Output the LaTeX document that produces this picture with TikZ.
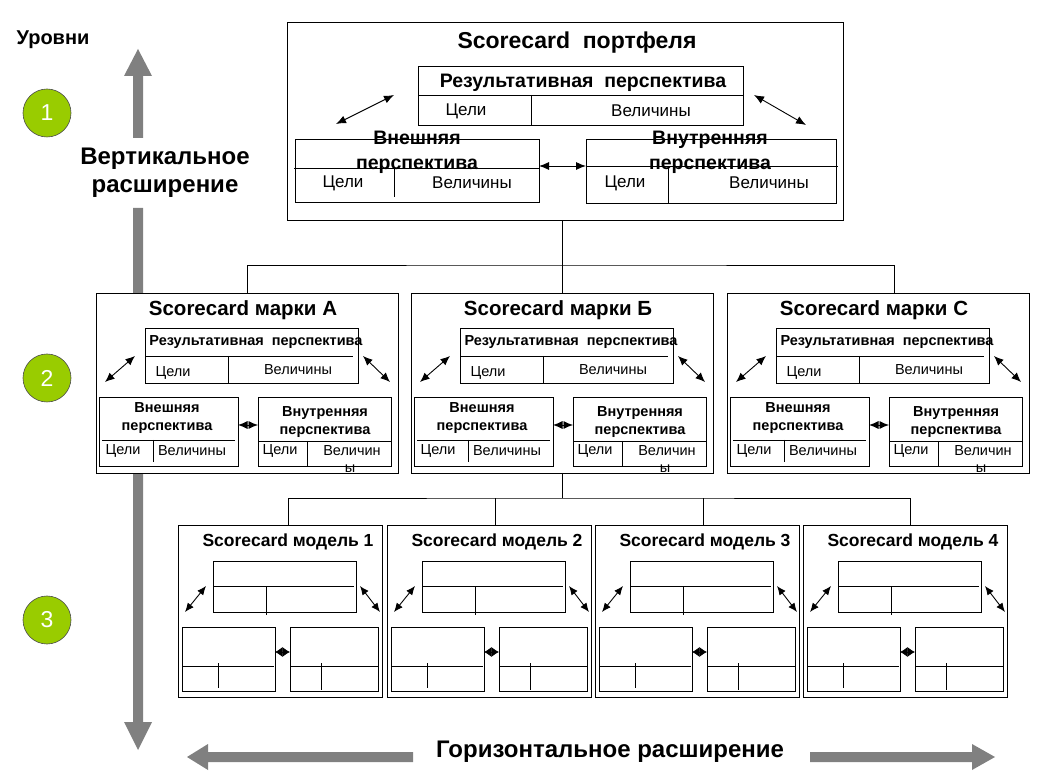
\documentclass[tikz,border=0pt]{standalone}
\usepackage{fontspec}
\setmainfont{Liberation Sans}
\usetikzlibrary{arrows.meta,calc}
\definecolor{lvgreen}{HTML}{99CC00}
\definecolor{arrgray}{HTML}{808080}
\tikzset{
 box/.style={draw=black, line width=0.9pt, fill=white, anchor=north west, inner sep=0pt, outer sep=0pt},
 ln/.style={draw=black, line width=0.9pt},
 conn/.style={draw=black, line width=0.9pt},
 dblA/.style={line width=0.9pt, {Latex[length=10pt,width=8pt]}-{Latex[length=10pt,width=8pt]}},
 dblB/.style={line width=0.9pt, {Latex[length=9.5pt,width=8pt]}-{Latex[length=9.5pt,width=8pt]}},
 dblC/.style={line width=0.9pt, {Latex[length=9pt,width=7.5pt]}-{Latex[length=9pt,width=7.5pt]}},
 midC/.style={line width=0.9pt, {Latex[length=7.5pt,width=10pt]}-{Latex[length=7.5pt,width=10pt]}},
 txt/.style={inner sep=0pt, outer sep=0pt, anchor=center},
 tA/.style={txt, font=\fontsize{23}{27}\selectfont\bfseries},
 bA/.style={txt, font=\fontsize{19.5}{25}\selectfont\bfseries},
 rA/.style={txt, font=\fontsize{17}{20}\selectfont},
 tB/.style={txt, font=\fontsize{20.5}{24}\selectfont\bfseries},
 bB/.style={txt, font=\fontsize{14.5}{18.5}\selectfont\bfseries},
 rB/.style={txt, font=\fontsize{14.5}{17}\selectfont},
 tC/.style={txt, font=\fontsize{17.5}{20}\selectfont\bfseries},
 lvl/.style={txt, font=\fontsize{20}{23}\selectfont\bfseries},
 big/.style={txt, font=\fontsize{24}{28}\selectfont\bfseries},
 circ/.style={circle, draw=black!70, line width=0.6pt, fill=lvgreen, minimum size=48pt, inner sep=0pt, text=white, font=\fontsize{23}{26}\selectfont},
}
\newcommand{\markabox}[3]{%
\begin{scope}[xshift=#1pt]
\node[box, minimum width=302pt, minimum height=180pt] (#2) at (96,293) {};
\node[tB] (#2t) at (243,310) {#3};
\node[box, minimum width=213pt, minimum height=55pt] (#2r) at (145,328) {};
\draw[ln] (145,356) -- (353,356);
\draw[ln] (228,356) -- (228,383);
\node[bB] (#2rt) at (256,342) {Результативная\ \ перспектива};
\node[rB] (#2rg) at (173,373) {Цели};
\node[rB] (#2rv) at (298,370) {Величины};
\draw[dblB] (105,382) -- (135,356);
\draw[dblB] (363,356) -- (390,382);
\node[box, minimum width=139pt, minimum height=69pt] (#2e) at (99,397) {};
\draw[ln] (102,440) -- (235,440);
\draw[ln] (153,440) -- (153,462);
\node[bB, align=center] (#2et) at (167,418) {Внешняя\\перспектива};
\node[rB] (#2eg) at (123,451) {Цели};
\node[rB] (#2ev) at (192,451) {Величины};
\node[box, minimum width=133pt, minimum height=69pt] (#2i) at (258,397) {};
\draw[ln] (258,441) -- (391,441);
\draw[ln] (307,441) -- (307,466);
\node[bB, align=center] (#2it) at (325,422) {Внутренняя\\перспектива};
\node[rB] (#2ig) at (280,451) {Цели};
\node[rB] (#2iv) at (352,451) {Величин};
\node[rB] (#2iy) at (350,469) {ы};
\draw[dblB] (#2e.east |- 0,425) -- (#2i.west |- 0,425);
\end{scope}}
\newcommand{\modelbox}[3]{%
\begin{scope}[xshift=#1pt]
\node[box, minimum width=204pt, minimum height=172pt] (#2) at (178,525) {};
\node[tC] (#2t) at (288,542) {#3};
\node[box, minimum width=143pt, minimum height=51pt] (#2r) at (213,561) {};
\draw[ln] (214,586) -- (354,586);
\draw[ln] (266,586) -- (266,615);
\draw[dblC] (185,612) -- (206,586);
\draw[dblC] (360,586) -- (380,612);
\node[box, minimum width=93pt, minimum height=64pt] (#2e) at (182,627) {};
\draw[ln] (183,666) -- (274,666);
\draw[ln] (218,663) -- (218,688);
\node[box, minimum width=88pt, minimum height=64pt] (#2i) at (290,627) {};
\draw[ln] (290,666) -- (378,666);
\draw[ln] (321,663) -- (321,690);
\draw[midC] (#2e.east |- 0,652) -- (#2i.west |- 0,652);
\end{scope}}
\begin{document}
\begin{tikzpicture}[x=1pt,y=-1pt]
\useasboundingbox (0,0) rectangle (1037,783);
% gray arrows
\fill[arrgray] (133,138) -- (133,76) -- (124,76) -- (138,49) -- (152,76) -- (143,76) -- (143,138) -- cycle;
\fill[arrgray] (133,208) -- (133,722) -- (124,722) -- (138,750) -- (152,722) -- (143,722) -- (143,208) -- cycle;
\fill[arrgray] (413,752) -- (208,752) -- (208,744) -- (187,757) -- (208,770) -- (208,762) -- (413,762) -- cycle;
\fill[arrgray] (810,752) -- (972,752) -- (972,744) -- (995,757) -- (972,770) -- (972,762) -- (810,762) -- cycle;
% left labels
\node[lvl] (lev) at (53,40) {Уровни};
\node[big, align=center] (vert) at (165,173) {Вертикальное\\расширение};
\node[big] (hor) at (610,752) {Горизонтальное расширение};
\node[circ] (c1) at (47,113) {1};
\node[circ] (c2) at (47,378) {2};
\node[circ] (c3) at (47,620) {3};
% top box
\node[box, minimum width=556pt, minimum height=198pt] (top) at (287,22) {};
\node[tA] (toptitle) at (577,43) {Scorecard\ \ портфеля};
\node[box, minimum width=325pt, minimum height=59pt] (topr) at (418,66) {};
\draw[ln] (418,95) -- (743,95);
\draw[ln] (531,95) -- (531,125);
\node[bA] (toprt) at (583,83) {Результативная\ \ перспектива};
\node[rA] (toprg) at (466,111) {Цели};
\node[rA] (toprv) at (651,111) {Величины};
\draw[dblA] (336,124) -- (394,95);
\draw[dblA] (754,95) -- (806,125);
\node[box, minimum width=244pt, minimum height=63pt] (tope) at (295,139) {};
\draw[ln] (294,168) -- (539,168);
\draw[ln] (394,168) -- (394,197);
\node[bA, align=center] (topet) at (417,152) {Внешняя\\перспектива};
\node[rA] (topeg) at (343,183) {Цели};
\node[rA] (topev) at (472,183) {Величины};
\node[box, minimum width=250pt, minimum height=64pt] (topi) at (586,139) {};
\draw[ln] (586,166) -- (838,166);
\draw[ln] (668,166) -- (668,203);
\node[bA, align=center] (topit) at (710,152) {Внутренняя\\перспектива};
\node[rA] (topig) at (625,183) {Цели};
\node[rA] (topiv) at (769,183) {Величины};
\draw[dblA] (tope.east |- 0,166) -- (topi.west |- 0,166);
% level 2
\markabox{0}{MA}{Scorecard марки А}
\markabox{315}{MB}{Scorecard марки Б}
\markabox{631}{MC}{Scorecard марки С}
% level 3
\modelbox{0}{S1}{Scorecard модель 1}
\modelbox{209}{S2}{Scorecard модель 2}
\modelbox{417}{S3}{Scorecard модель 3}
\modelbox{625}{S4}{Scorecard модель 4}
% connectors
\draw[conn] (MB.north) -- (MB.north |- top.south);
\coordinate (j1) at ($(MB.north)+(0,-28)$);
\draw[conn] (MA.north) |- (j1) -| ([xshift=16pt]MC.north);
\coordinate (j2) at ($(MB.south)+(0,25)$);
\draw[conn] (MB.south) -- (j2);
\draw[conn] ([xshift=8pt]S1.north) |- (j2) -| ([xshift=5pt]S4.north);
\draw[conn] ([xshift=6pt]S2.north) -- ([xshift=6pt]S2.north |- j2);
\draw[conn] ([xshift=6pt]S3.north) -- ([xshift=6pt]S3.north |- j2);
\end{tikzpicture}
\end{document}
